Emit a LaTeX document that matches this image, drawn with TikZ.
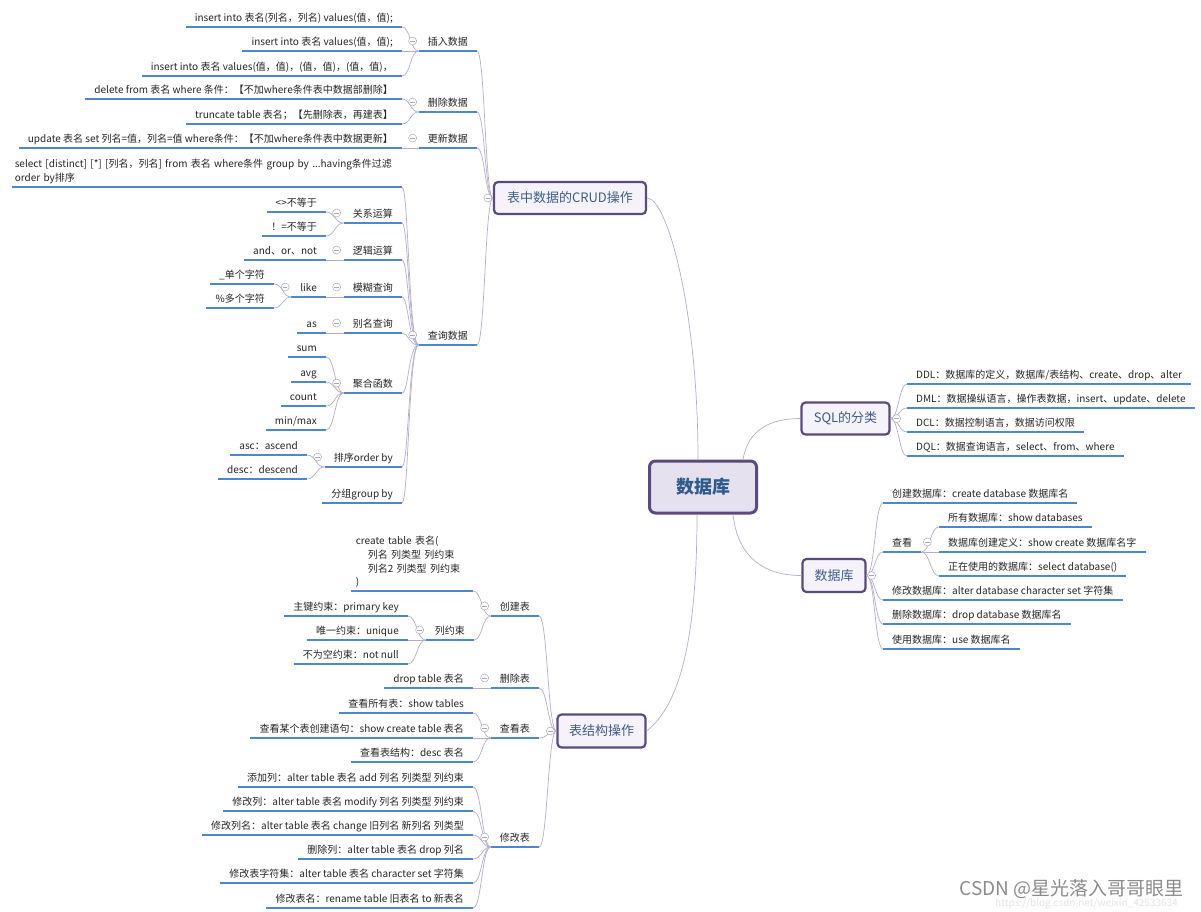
\documentclass[tikz,border=0pt]{standalone}
\usepackage{fontspec}
\setmainfont{Noto Sans CJK SC}
\usetikzlibrary{calc}
\definecolor{ulc}{HTML}{4F87CC}
\definecolor{linec}{HTML}{B4AECB}
\definecolor{textc}{HTML}{262626}
\definecolor{topicborder}{HTML}{5B4A7E}
\definecolor{topicfill}{HTML}{F5F2FA}
\definecolor{rootfill}{HTML}{E5E1EF}
\definecolor{topictext}{HTML}{3E5E87}
\definecolor{roottext}{HTML}{2F5B8C}
\definecolor{foldc}{HTML}{A8A8B8}
\newcommand\leaffont{\fontsize{10}{14}\selectfont}
\newcommand\topicfont{\fontsize{13}{16}\selectfont}
\newcommand\rootfont{\fontsize{18}{22}\selectfont\bfseries}
\newcommand\mmlink[3][0.5]{\draw[conn] let \p1=(#2), \p2=(#3) in (\p1) .. controls ({\x1+#1*(\x2-\x1)},\y1) and ({\x1+#1*(\x2-\x1)},\y2) .. (\p2);}
\newcommand\mmfold[2]{\node[fold] (#1) at (#2) {};}
\hyphenpenalty=10000
\tikzset{
  conn/.style={draw=linec, line width=0.7pt},
  uline/.style={draw=ulc, line width=2.2pt},
  leafbase/.style={font=\leaffont, text=textc, inner xsep=9pt, inner ysep=3pt,
    append after command={(\tikzlastnode.south west) edge[uline] (\tikzlastnode.south east)}},
  leaf/.style={leafbase, text height=8pt, text depth=2.5pt},
  lleaf/.style={leaf, anchor=south east},
  rleaf/.style={leaf, anchor=south west},
  mleaf/.style={leafbase, anchor=south east, align=left},
  topic/.style={draw=topicborder, line width=2.2pt, rounded corners=4pt, fill=topicfill,
    text=topictext, font=\topicfont, inner sep=0pt},
  rootbox/.style={draw=topicborder, line width=3pt, rounded corners=6pt, fill=rootfill,
    text=roottext, font=\rootfont, inner sep=0pt, minimum width=107pt, minimum height=52pt},
  fold/.style={circle, draw=foldc, line width=0.5pt, fill=white, minimum size=8pt, inner sep=0pt,
    path picture={\draw[foldc, line width=0.5pt] ([xshift=-2.2pt]path picture bounding box.center) -- ([xshift=2.2pt]path picture bounding box.center);}}
}
\begin{document}
\begin{tikzpicture}[x=1pt,y=-1pt]
\useasboundingbox (0,0) rectangle (1201,911);
\fill[white] (0,0) rectangle (1201,911);

% ---------- root and main topics ----------
\node[rootbox] (root) at (703,487) {数据库};
\node[topic, minimum width=152pt, minimum height=32pt] (crud) at (570,198) {表中数据的CRUD操作};
\node[topic, minimum width=88pt, minimum height=32pt] (sql) at (845.5,418.5) {SQL的分类};
\node[topic, minimum width=63pt, minimum height=33pt] (db2) at (834,575.5) {数据库};
\node[topic, minimum width=88pt, minimum height=33pt] (tbl) at (601.5,731) {表结构操作};

\draw[conn] (crud.east) .. controls +(20,0) and +(0,-150) .. ([xshift=-5pt]root.north);
\draw[conn] ([xshift=40pt]root.north) .. controls +(5,-30) and +(-30,0) .. (sql.west);
\draw[conn] ([xshift=30pt]root.south) .. controls +(5,45) and +(-35,0) .. (db2.west);
\draw[conn] ([xshift=-6pt]root.south) .. controls +(0,150) and +(25,-20) .. (tbl.east);

% ---------- CRUD branch ----------
\node[lleaf] (ins1) at (402,27) {insert into 表名(列名，列名) values(值，值);};
\node[lleaf] (ins2) at (402,51) {insert into 表名 values(值，值);};
\node[lleaf] (ins3) at (402,76) {insert into 表名 values(值，值)，(值，值)，(值，值)，};
\node[lleaf] (ins) at (477,51) {插入数据};
\node[lleaf] (del1) at (402,99) {delete from 表名 where 条件：【不加where条件表中数据部删除】};
\node[lleaf] (del2) at (402,124) {truncate table 表名；【先删除表，再建表】};
\node[lleaf] (del) at (477,112) {删除数据};
\node[lleaf] (upd1) at (402,148) {update 表名 set 列名=值，列名=值 where条件：【不加where条件表中数据更新】};
\node[lleaf] (upd) at (477,148) {更新数据};
\node[mleaf, text width=384pt, inner xsep=3pt] (sel) at (402,187) {select [distinct] [*] [列名，列名] from 表名 where条件 group by ...having条件过滤\\order by排序};
\node[lleaf] (rel) at (402,223) {关系运算};
\node[lleaf] (ne1) at (326,212) {<>不等于};
\node[lleaf] (ne2) at (326,236) {！=不等于};
\node[lleaf] (logic) at (402,260) {逻辑运算};
\node[lleaf] (andor) at (326,260) {and、or、not};
\node[lleaf] (fuzzy) at (402,297) {模糊查询};
\node[lleaf] (like) at (326,297) {like};
\node[lleaf] (one) at (274,284) {\_单个字符};
\node[lleaf] (many) at (274,308) {\%多个字符};
\node[lleaf] (alias) at (402,333) {别名查询};
\node[lleaf] (as) at (326,333) {as};
\node[lleaf] (agg) at (402,393) {聚合函数};
\node[lleaf] (sum) at (326,357) {sum};
\node[lleaf] (avg) at (326,382) {avg};
\node[lleaf] (count) at (326,406) {count};
\node[lleaf] (minmax) at (326,430) {min/max};
\node[lleaf] (order) at (402,467) {排序order by};
\node[lleaf] (asc) at (307,455) {asc：ascend};
\node[lleaf] (desc) at (307,479) {desc：descend};
\node[lleaf] (group) at (402,503) {分组group by};
\node[lleaf] (query) at (477,345) {查询数据};

\foreach \c in {ins,del,upd,query} {\mmlink{crud.west}{\c.south east}}
\foreach \c in {ins1,ins2,ins3} {\mmlink{ins.south west}{\c.south east}}
\foreach \c in {del1,del2} {\mmlink{del.south west}{\c.south east}}
\mmlink{upd.south west}{upd1.south east}
\foreach \c in {sel,rel,logic,fuzzy,alias,agg,order,group} {\mmlink[0.6]{query.south west}{\c.south east}}
\foreach \c in {ne1,ne2} {\mmlink{rel.south west}{\c.south east}}
\mmlink{logic.south west}{andor.south east}
\mmlink{fuzzy.south west}{like.south east}
\foreach \c in {one,many} {\mmlink{like.south west}{\c.south east}}
\mmlink{alias.south west}{as.south east}
\foreach \c in {sum,avg,count,minmax} {\mmlink{agg.south west}{\c.south east}}
\foreach \c in {asc,desc} {\mmlink{order.south west}{\c.south east}}

% ---------- SQL branch ----------
\node[rleaf] (ddl) at (907,384) {DDL：数据库的定义，数据库/表结构、create、drop、alter};
\node[rleaf] (dml) at (907,408) {DML：数据操纵语言，操作表数据，insert、update、delete};
\node[rleaf] (dcl) at (907,432) {DCL：数据控制语言，数据访问权限};
\node[rleaf] (dql) at (907,456) {DQL：数据查询语言，select、from、where};
\foreach \c in {ddl,dml,dcl,dql} {\mmlink{sql.east}{\c.south west}}

% ---------- database branch ----------
\node[rleaf] (cdb) at (883,503) {创建数据库：create database 数据库名};
\node[rleaf] (look) at (883,552) {查看};
\node[rleaf] (l1) at (939,527) {所有数据库：show databases};
\node[rleaf] (l2) at (939,552) {数据库创建定义：show create 数据库名字};
\node[rleaf] (l3) at (939,576) {正在使用的数据库：select database()};
\node[rleaf] (mdb) at (883,600) {修改数据库：alter database character set 字符集};
\node[rleaf] (ddb) at (883,624) {删除数据库：drop database 数据库名};
\node[rleaf] (udb) at (883,649) {使用数据库：use 数据库名};
\foreach \c in {cdb,look,mdb,ddb,udb} {\mmlink{db2.east}{\c.south west}}
\foreach \c in {l1,l2,l3} {\mmlink{look.south east}{\c.south west}}

% ---------- table structure branch ----------
\node[lleaf] (create) at (539,616) {创建表};
\node[mleaf, text width=112pt, inner xsep=5pt, font=\fontsize{10}{13.7}\selectfont] (ctab) at (473,591) {create table 表名(\\\hspace*{12pt}列名 列类型 列约束\\\hspace*{12pt}列名2 列类型 列约束\\)};
\node[lleaf] (cons) at (474,640) {列约束};
\node[lleaf] (pk) at (408,616) {主键约束：primary key};
\node[lleaf] (uq) at (408,640) {唯一约束：unique};
\node[lleaf] (nn) at (408,664) {不为空约束：not null};
\node[lleaf] (drop) at (539,688) {删除表};
\node[lleaf] (dropt) at (473,688) {drop table 表名};
\node[lleaf] (view) at (539,738) {查看表};
\node[lleaf] (v1) at (473,713) {查看所有表：show tables};
\node[lleaf] (v2) at (473,738) {查看某个表创建语句：show create table 表名};
\node[lleaf] (v3) at (473,762) {查看表结构：desc 表名};
\node[lleaf] (alter) at (539,847) {修改表};
\node[lleaf] (a1) at (473,787) {添加列：alter table 表名 add 列名 列类型 列约束};
\node[lleaf] (a2) at (473,811) {修改列：alter table 表名 modify 列名 列类型 列约束};
\node[lleaf] (a3) at (473,835) {修改列名：alter table 表名 change 旧列名 新列名 列类型};
\node[lleaf] (a4) at (473,859) {删除列：alter table 表名 drop 列名};
\node[lleaf] (a5) at (473,883) {修改表字符集：alter table 表名 character set 字符集};
\node[lleaf] (a6) at (473,908) {修改表名：rename table 旧表名 to 新表名};

\foreach \c in {create,drop,view,alter} {\mmlink{tbl.west}{\c.south east}}
\foreach \c in {ctab,cons} {\mmlink{create.south west}{\c.south east}}
\foreach \c in {pk,uq,nn} {\mmlink{cons.south west}{\c.south east}}
\mmlink{drop.south west}{dropt.south east}
\foreach \c in {v1,v2,v3} {\mmlink{view.south west}{\c.south east}}
\foreach \c in {a1,a2,a3,a4,a5,a6} {\mmlink{alter.south west}{\c.south east}}

% ---------- fold markers ----------
\mmfold{fcrud}{$(crud.west)+(-5,0)$}
\mmfold{fins}{$(ins.south west)+(-6,-10)$}
\mmfold{fdel}{$(del.south west)+(-6,-10)$}
\mmfold{fupd}{$(upd.south west)+(-6,-10)$}
\mmfold{fquery}{$(query.south west)+(-6,-10)$}
\mmfold{frel}{$(rel.south west)+(-7,-10)$}
\mmfold{flogic}{$(logic.south west)+(-7,-10)$}
\mmfold{ffuzzy}{$(fuzzy.south west)+(-7,-10)$}
\mmfold{flike}{$(like.south west)+(-6,-10)$}
\mmfold{falias}{$(alias.south west)+(-7,-10)$}
\mmfold{fagg}{$(agg.south west)+(-7,-10)$}
\mmfold{forder}{$(order.south west)+(-7,-10)$}
\mmfold{fsql}{$(sql.east)+(6,0)$}
\mmfold{fdb}{$(db2.east)+(5,0)$}
\mmfold{flook}{$(look.south east)+(6,-10)$}
\mmfold{ftbl}{$(tbl.west)+(-6,0)$}
\mmfold{fcreate}{$(create.south west)+(-6,-10)$}
\mmfold{fcons}{$(cons.south west)+(-6,-10)$}
\mmfold{fdrop}{$(drop.south west)+(-6,-10)$}
\mmfold{fview}{$(view.south west)+(-6,-10)$}
\mmfold{falter}{$(alter.south west)+(-6,-10)$}

% ---------- watermark ----------
\node[anchor=east, text=black!45, font=\fontsize{19}{22}\selectfont, inner sep=0pt] (wm) at (1184,889) {CSDN @星光落入哥哥眼里};
\node[anchor=west, text=black!10, font=\fontsize{10}{12}\selectfont, inner sep=0pt] (wm2) at (995,904) {https://blog.csdn.net/weixin\_42533634};
\end{tikzpicture}
\end{document}
